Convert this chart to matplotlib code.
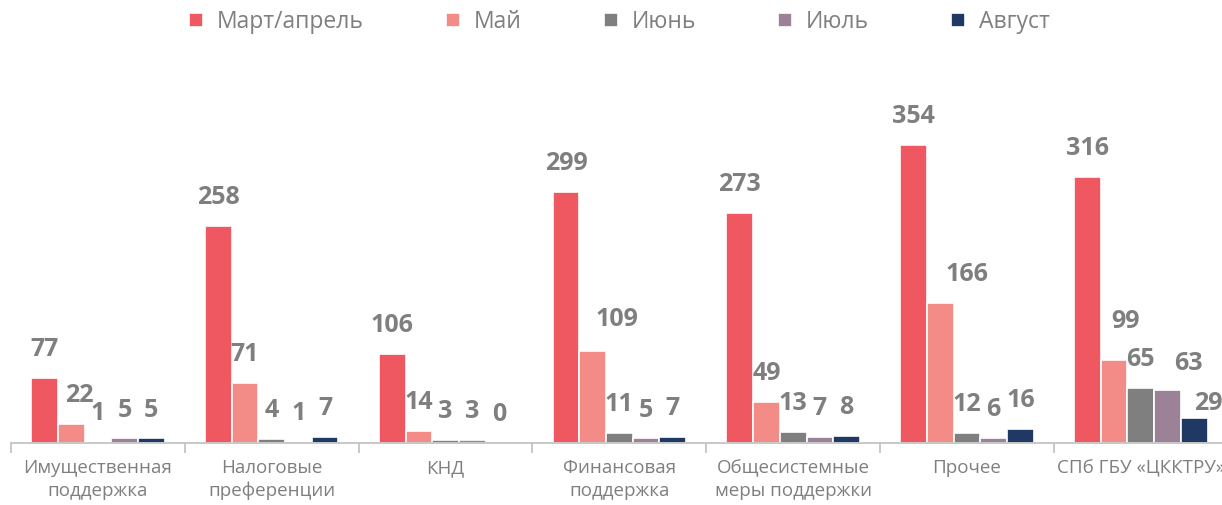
import numpy as np
import matplotlib.pyplot as plt

categories = ['Имущественная\nподдержка', 'Налоговые\nпреференции', 'КНД',
              'Финансовая\nподдержка', 'Общесистемные\nмеры поддержки', 'Прочее',
              'СПб ГБУ «ЦККТРУ»']
series = ['Март/апрель', 'Май', 'Июнь', 'Июль', 'Август']
mar_apr = [77, 258, 106, 299, 273, 354, 316]
may = [22, 71, 14, 109, 49, 166, 99]
june = [1, 4, 3, 11, 13, 12, 65]
july = [5, 1, 3, 5, 7, 6, 63]
august = [5, 7, 0, 7, 8, 16, 29]

colors = ['#EF5761', '#F38C87', '#7F7F7F', '#9C8296', '#1F3864']
values = [mar_apr, may, june, july, august]

# hand-moved data labels, (series, category) -> (dx, dy) in pixels
nudges = {(1, 0): (8, 0), (1, 3): (24, 3), (1, 5): (27, 0), (1, 6): (11, 10),
          (3, 6): (21, -2), (4, 6): (14, -14)}

plt.rcParams['font.family'] = ['Open Sans', 'DejaVu Sans']
gray = '#7F7F7F'

fig = plt.figure(figsize=(12.22, 5.05), dpi=100)
ax = fig.add_axes([0.009, 0.1234, 0.9957, 0.70])

x = np.arange(len(categories))
w = 0.1536
for i, (name, vals, c) in enumerate(zip(series, values, colors)):
    pos = x + (i - 2) * w
    ax.bar(pos, vals, width=w, color=c, edgecolor='white', linewidth=1.2, label=name)
    for j, (p, v) in enumerate(zip(pos, vals)):
        dx, dy = nudges.get((i, j), (0, 0))
        ax.annotate(str(v), (p, v), xytext=(dx * 0.72, 11.5 + dy * 0.72),
                    textcoords='offset points', ha='center', va='bottom',
                    fontsize=18, fontweight='bold', color=gray)

ax.set_xlim(-0.5, len(categories) - 0.5)
ax.set_ylim(0, 421)
ax.set_yticks([])
for s in ['top', 'right', 'left']:
    ax.spines[s].set_visible(False)
ax.spines['bottom'].set_color('#BFBFBF')
ax.spines['bottom'].set_linewidth(1.2)

ax.set_xticks(x)
ax.set_xticklabels(categories, fontsize=13.5, color=gray, linespacing=1.3)
ax.tick_params(axis='x', which='major', length=0, pad=12)
ax.set_xticks(np.arange(len(categories) + 1) - 0.5, minor=True)
ax.tick_params(axis='x', which='minor', length=7, color='#BFBFBF', width=1.2)

fig.legend(loc='center', bbox_to_anchor=(0.507, 0.956), ncol=5, frameon=False,
           fontsize=16.5, labelcolor=gray, handlelength=0.6, handleheight=0.6,
           handletextpad=0.6, columnspacing=3.6)

plt.savefig('out.png', dpi=100)
